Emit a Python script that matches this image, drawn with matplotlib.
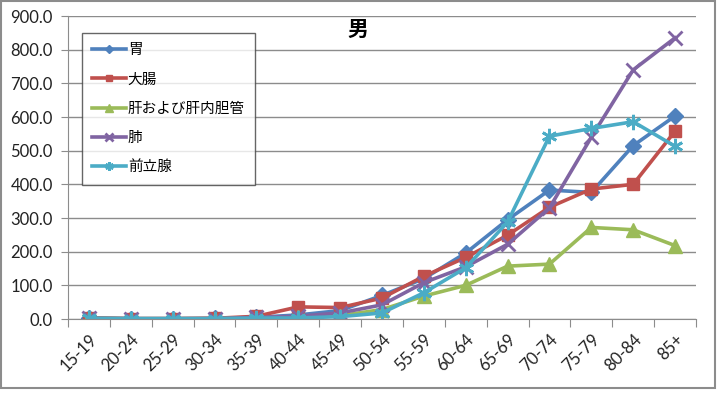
import matplotlib.pyplot as plt
from matplotlib.patches import Rectangle

plt.rcParams['font.family'] = ['Lato', 'Noto Sans CJK JP', 'DejaVu Sans']

ages = ['15-19', '20-24', '25-29', '30-34', '35-39', '40-44', '45-49', '50-54',
        '55-59', '60-64', '65-69', '70-74', '75-79', '80-84', '85+']

stomach = [3, 1, 1, 2, 5, 12, 25, 70, 120, 196, 295, 383, 376, 515, 603]
colon = [3, 1, 1, 2, 8, 36, 34, 62, 127, 183, 249, 332, 386, 400, 558]
liver = [2, 1, 1, 1, 4, 5, 10, 28, 68, 100, 157, 163, 272, 265, 218]
lung = [2, 1, 1, 1, 5, 8, 18, 42, 108, 155, 222, 330, 540, 740, 835]
prostate = [2, 1, 1, 1, 3, 3, 7, 18, 78, 152, 288, 543, 566, 586, 513]

series = [
    ('胃', stomach, '#4F81BD', 'D', 8),
    ('大腸', colon, '#C0504D', 's', 9),
    ('肝および肝内胆管', liver, '#9BBB59', '^', 10),
    ('肺', lung, '#8064A2', 'x', 10),
    ('前立腺', prostate, '#4BACC6', (6, 2, 0), 11),
]

fig = plt.figure(figsize=(7.22, 4.18), dpi=100)
ax = fig.add_axes([68 / 722, 1 - 319 / 418, 628 / 722, 303 / 418])

x = range(len(ages))
for name, vals, col, mk, ms in series:
    ax.plot(x, vals, color=col, lw=2.6, marker=mk, ms=ms, mew=2 if mk in ('x', (6, 2, 0)) else 1,
            mec=col, mfc=col, label=name)

ax.set_xlim(-0.5, len(ages) - 0.5)
ax.set_ylim(0, 900)
ax.set_yticks(range(0, 901, 100))
ax.set_yticklabels([f'{v:.1f}' for v in range(0, 901, 100)], fontsize=12, color='#222222')
ax.yaxis.grid(True, color='#8c8c8c', lw=1)
ax.set_axisbelow(True)

ax.set_xticks([i + 0.5 for i in range(-1, len(ages))], minor=False)
ax.set_xticklabels([])
ax.set_xticks(list(x), minor=True)
ax.set_xticklabels(ages, minor=True, rotation=45, ha='right', rotation_mode='anchor',
                   fontsize=12, color='#222222')
ax.tick_params(axis='x', which='major', length=6, color='#8c8c8c')
ax.tick_params(axis='x', which='minor', length=0, pad=9)
ax.tick_params(axis='y', length=5, color='#8c8c8c', pad=6)

for s in ['top', 'right']:
    ax.spines[s].set_visible(False)
for s in ['left', 'bottom']:
    ax.spines[s].set_color('#8c8c8c')

ax.text(0.462, 0.955, '男', transform=ax.transAxes, ha='center', va='center',
        fontsize=15, fontweight='bold')

leg = ax.legend(loc='upper left', bbox_to_anchor=(0.022, 0.944), borderaxespad=0,
                fancybox=False, edgecolor='#404040', fontsize=10.5, markerscale=0.55,
                handlelength=2.3, handletextpad=0.15, labelspacing=1.05, borderpad=0.7)
leg.get_frame().set_linewidth(1)

fig.patches.append(Rectangle((1 / 722, 1 - 388 / 418), 714 / 722, 388 / 418 - 0.002,
                             transform=fig.transFigure, fill=False, ec='#8c8c8c', lw=1.5))

fig.savefig('out.png', dpi=100)
